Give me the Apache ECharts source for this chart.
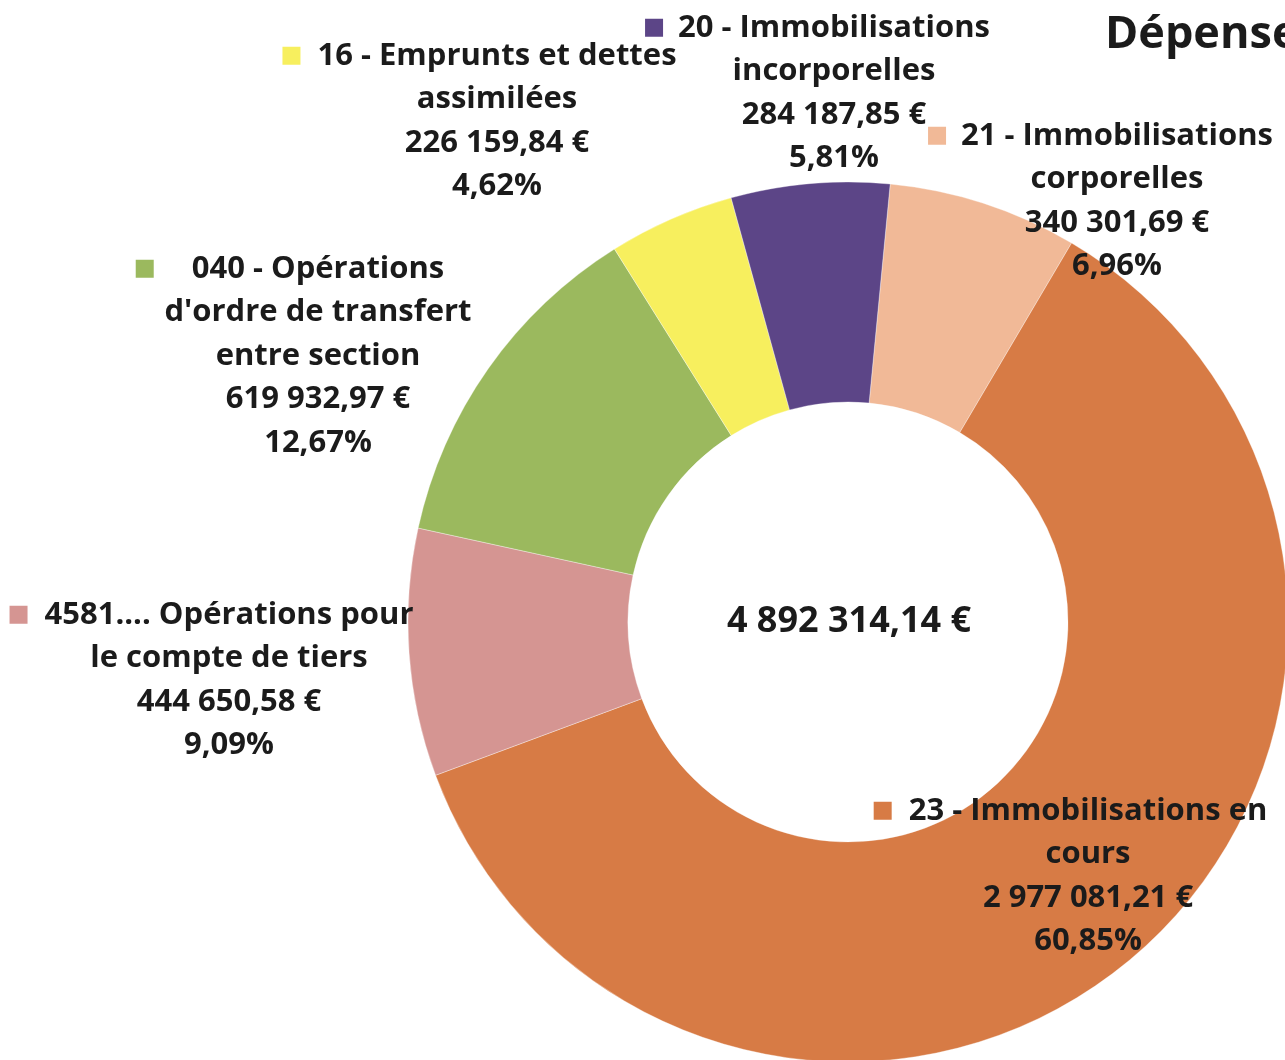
<!DOCTYPE html>
<html>
<head>
<meta charset="utf-8">
<script src="https://cdn.jsdelivr.net/npm/echarts@6/dist/echarts.min.js"></script>
<style>
  html, body { margin: 0; padding: 0; background: #fff; }
  #chart { width: 1285px; height: 1060px; }
</style>
</head>
<body>
<div id="chart"></div>
<script>
  // data, in drawing order (clockwise from the top)
  const categories = [
    '21 - Immobilisations\ncorporelles',
    '23 - Immobilisations en\ncours',
    '4581.... Opérations pour\nle compte de tiers',
    "040 - Opérations\nd'ordre de transfert\nentre section",
    '16 - Emprunts et dettes\nassimilées',
    '20 - Immobilisations\nincorporelles'
  ];
  const values = [340301.69, 2977081.21, 444650.58, 619932.97, 226159.84, 284187.85];
  const colors = ['#f1b997', '#d77b45', '#d59592', '#9bb95e', '#f7ef5e', '#5c4587'];
  const titleText = 'Dépenses';

  // label anchors (centre x, top y) and gap between key square and text
  const labelPos = [[1117, 114], [1088, 789], [229, 593], [318, 247], [497, 34], [834, 6]];
  const keyGap = [15, 17, 17, 38, 17, 15];
  const KEY = 18;

  function euro(v) {
    const parts = v.toFixed(2).split('.');
    return parts[0].replace(/\B(?=(\d{3})+(?!\d))/g, ' ') + ',' + parts[1] + ' €';
  }

  const total = values.reduce((a, b) => a + b, 0);

  const rich = { t: { fontFamily: 'Open Sans', fontWeight: 'bold', fontSize: 31, lineHeight: 43.5, color: '#1b1b1b' } };
  colors.forEach((c, i) => {
    rich['sq' + i] = { width: KEY, height: KEY, backgroundColor: c, lineHeight: 43.5 };
    rich['g' + i] = { width: keyGap[i], lineHeight: 43.5 };
    rich['p' + i] = { width: KEY + keyGap[i], lineHeight: 43.5 };
  });

  const chart = echarts.init(document.getElementById('chart'));

  const option = {
    animation: false,
    title: {
      text: titleText,
      left: 1100,
      top: 8,
      textStyle: { fontFamily: 'Open Sans', fontWeight: 'bold', fontSize: 45, color: '#1b1b1b' }
    },
    graphic: [{
      type: 'text',
      x: 849,
      y: 622,
      style: {
        text: euro(total),
        font: 'bold 36px "Open Sans"',
        fill: '#1b1b1b',
        align: 'center',
        verticalAlign: 'middle'
      }
    }],
    series: [{
      type: 'pie',
      center: [848, 622],
      radius: [220, 440],
      startAngle: 84.5,
      clockwise: true,
      avoidLabelOverlap: false,
      itemStyle: { borderColor: 'rgba(255,255,255,0.35)', borderWidth: 1 },
      labelLine: { show: false },
      label: {
        show: true,
        position: 'outside',
        align: 'center',
        rich: rich,
        formatter: p => {
          const i = p.dataIndex;
          const lines = p.name.split('\n');
          let s = `{sq${i}|}{g${i}|}{t|${lines[0]}}{p${i}|}`;
          for (let k = 1; k < lines.length; k++) s += `\n{t|${lines[k]}}`;
          s += `\n{t|${euro(p.value)}}`;
          s += `\n{t|${p.percent.toFixed(2).replace('.', ',')}%}`;
          return s;
        }
      },
      labelLayout: params => ({
        x: labelPos[params.dataIndex][0],
        y: labelPos[params.dataIndex][1],
        align: 'center',
        verticalAlign: 'top'
      }),
      data: values.map((v, i) => ({
        name: categories[i],
        value: v,
        itemStyle: { color: colors[i] }
      }))
    }]
  };

  chart.setOption(option);
  window.addEventListener('resize', () => { chart.resize(); });
</script>
</body>
</html>
